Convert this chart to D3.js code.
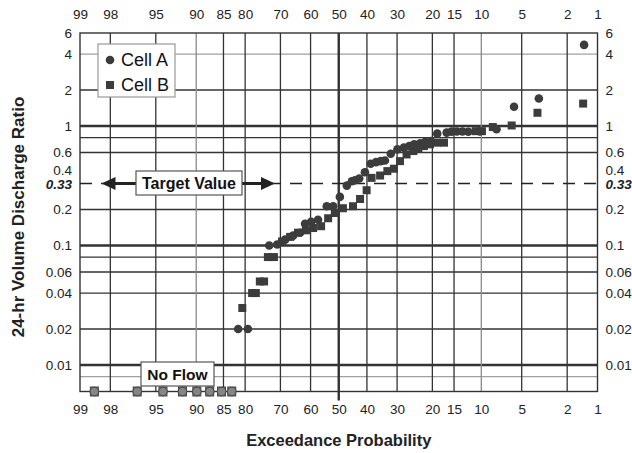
<!DOCTYPE html>
<html>
<head>
<meta charset="utf-8">
<script src="https://cdn.jsdelivr.net/npm/d3@7"></script>
<style>
  body { margin: 0; background: #fff; }
  text { font-family: "Liberation Sans", Arial, sans-serif; }
</style>
</head>
<body>
<svg id="chart" width="632" height="453"></svg>
<script>
// tick labels / grid
const probTicks = [99, 98, 95, 90, 85, 80, 70, 60, 50, 40, 30, 20, 15, 10, 5, 2, 1];
const probGrid = [98, 95, 90, 85, 80, 70, 60, 50, 40, 30, 20, 15, 10, 5, 2];
const ratioTicks = [6, 4, 2, 1, 0.6, 0.4, 0.2, 0.1, 0.06, 0.04, 0.02, 0.01];
const ratioGrid = [4, 2, 1, 0.8, 0.6, 0.2, 0.1, 0.08, 0.06, 0.04, 0.02, 0.01, 0.008];
const targetValue = 0.33;

// Cell A (circles): exceedance probability (%) and ratio
const cellAProb = [81.7, 79.3, 73.4, 71.0, 68.5, 65.9, 63.6, 61.9, 59.8, 57.4,
  54.3, 52.0, 49.6, 47.1, 45.3, 44.2, 42.7, 40.7, 38.7, 36.9,
  35.3, 33.9, 32.0, 29.9, 27.9, 26.3, 24.9, 23.2, 21.9, 20.4,
  18.8, 16.6, 15.5, 14.4, 13.3, 12.2, 10.2, 7.8, 5.75, 3.6, 1.37];
const cellAValue = [0.020, 0.020, 0.100, 0.102, 0.112, 0.121, 0.128, 0.152, 0.158, 0.164,
  0.213, 0.213, 0.255, 0.317, 0.345, 0.352, 0.364, 0.41, 0.483, 0.498,
  0.508, 0.515, 0.586, 0.637, 0.659, 0.679, 0.702, 0.715, 0.734, 0.748,
  0.863, 0.88, 0.897, 0.90, 0.90, 0.895, 0.90, 0.938, 1.45, 1.70, 4.77];

// Cell B (squares)
const cellBProb = [80.7, 78.2, 77.2, 76.1, 74.9, 73.8, 72.0, 69.5, 66.9, 64.3,
  61.6, 59.1, 56.3, 53.8, 51.4, 48.5, 44.9, 42.4, 40.1, 38.4,
  35.5, 33.1, 31.0, 29.1, 27.1, 25.1, 23.7, 22.2, 20.6, 18.9,
  17.2, 10.9, 9.9, 8.3, 6.0, 3.7, 1.4];
const cellBValue = [0.030, 0.040, 0.040, 0.050, 0.050, 0.080, 0.080, 0.108, 0.118, 0.128,
  0.134, 0.140, 0.145, 0.169, 0.187, 0.205, 0.213, 0.245, 0.29, 0.368,
  0.385, 0.419, 0.439, 0.508, 0.578, 0.617, 0.646, 0.679, 0.702, 0.725,
  0.725, 0.905, 0.905, 0.98, 1.01, 1.29, 1.54];

// zero-flow events, drawn on the bottom edge
const noFlowProb = [98.6, 96.5, 94.3, 92.0, 89.9, 87.7, 85.4, 83.2];

// inverse normal CDF (Acklam)
function probit(p) {
  const a = [-3.969683028665376e+01, 2.209460984245205e+02, -2.759285104469687e+02, 1.383577518672690e+02, -3.066479806614716e+01, 2.506628277459239e+00];
  const b = [-5.447609879822406e+01, 1.615858368580409e+02, -1.556989798598866e+02, 6.680131188771972e+01, -1.328068155288572e+01];
  const c = [-7.784894002430293e-03, -3.223964580411365e-01, -2.400758277161838e+00, -2.549732539343734e+00, 4.374664141464968e+00, 2.938163982698783e+00];
  const d = [7.784695709041462e-03, 3.224671290700398e-01, 2.445134137142996e+00, 3.754408661907416e+00];
  const pl = 0.02425;
  let q, r;
  if (p < pl) {
    q = Math.sqrt(-2 * Math.log(p));
    return (((((c[0]*q+c[1])*q+c[2])*q+c[3])*q+c[4])*q+c[5]) / ((((d[0]*q+d[1])*q+d[2])*q+d[3])*q+1);
  }
  if (p > 1 - pl) {
    q = Math.sqrt(-2 * Math.log(1 - p));
    return -(((((c[0]*q+c[1])*q+c[2])*q+c[3])*q+c[4])*q+c[5]) / ((((d[0]*q+d[1])*q+d[2])*q+d[3])*q+1);
  }
  q = p - 0.5; r = q * q;
  return (((((a[0]*r+a[1])*r+a[2])*r+a[3])*r+a[4])*r+a[5])*q / (((((b[0]*r+b[1])*r+b[2])*r+b[3])*r+b[4])*r+1);
}

const pLeft = 80, pRight = 597.5, pTop = 33, pBottom = 391.5;

const xz = d3.scaleLinear().domain([probit(0.99), probit(0.01)]).range([pLeft, pRight]);
const x = p => xz(probit(p / 100));
const y = d3.scaleLog().domain([0.006, 6]).range([pBottom, pTop]);

const svg = d3.select("#chart");
const ink = "#333";
const markFill = "#3c3c3c";

// frame background
svg.append("rect").attr("x", pLeft).attr("y", pTop)
  .attr("width", pRight - pLeft).attr("height", pBottom - pTop).attr("fill", "#fff");

// horizontal grid
svg.append("g").selectAll("line").data(ratioGrid).join("line")
  .attr("x1", pLeft).attr("x2", pRight)
  .attr("y1", d => y(d)).attr("y2", d => y(d))
  .attr("stroke", d => (d === 4 || d === 0.008) ? "#a0a0a0" : ink)
  .attr("stroke-width", d => [1, 0.1, 0.01].includes(d) ? 2.4 : 1.3);

// vertical grid
svg.append("g").selectAll("line").data(probGrid).join("line")
  .attr("x1", d => x(d)).attr("x2", d => x(d))
  .attr("y1", pTop).attr("y2", d => d === 50 ? pBottom + 9 : pBottom)
  .attr("stroke", d => (d === 90 || d === 10) ? "#8a8a8a" : ink)
  .attr("stroke-width", d => d === 50 ? 2.4 : 1.3);

// frame
svg.append("rect").attr("x", pLeft).attr("y", pTop)
  .attr("width", pRight - pLeft).attr("height", pBottom - pTop)
  .attr("fill", "none").attr("stroke", ink).attr("stroke-width", 1.4);

// target line
svg.append("line")
  .attr("x1", pLeft).attr("x2", pRight)
  .attr("y1", y(targetValue)).attr("y2", y(targetValue))
  .attr("stroke", "#222").attr("stroke-width", 1.6)
  .attr("stroke-dasharray", "12,9");

// axes
const probZ = probTicks.map(p => probit(p / 100));
function styleAxis(g) {
  g.select(".domain").remove();
  g.selectAll("text").attr("fill", "#222").style("font-size", "13.5px")
    .style("font-family", "'Liberation Sans', Arial, sans-serif");
}
svg.append("g").attr("transform", `translate(0,${pTop})`)
  .call(d3.axisTop(xz).tickValues(probZ).tickFormat((d, i) => probTicks[i]).tickSize(0).tickPadding(14))
  .call(styleAxis);
svg.append("g").attr("transform", `translate(0,${pBottom})`)
  .call(d3.axisBottom(xz).tickValues(probZ).tickFormat((d, i) => probTicks[i]).tickSize(0).tickPadding(13))
  .call(styleAxis);
const yLeft = svg.append("g").attr("transform", `translate(${pLeft},0)`)
  .call(d3.axisLeft(y).tickValues(ratioTicks).tickFormat(d => d).tickSize(0).tickPadding(8))
  .call(styleAxis);
const yRight = svg.append("g").attr("transform", `translate(${pRight},0)`)
  .call(d3.axisRight(y).tickValues(ratioTicks).tickFormat(d => d).tickSize(0).tickPadding(8))
  .call(styleAxis);
// 0.4 sits just above the 0.33 label, nudge it up a little like the original
[yLeft, yRight].forEach(g => g.selectAll(".tick").filter(d => d === 0.4)
  .select("text").attr("dy", "0.1em"));

// 0.33 labels
svg.append("text").attr("x", pLeft - 8).attr("y", y(targetValue)).attr("dy", "0.4em")
  .attr("text-anchor", "end").attr("font-size", 13.5).attr("font-weight", "bold")
  .attr("font-style", "italic").attr("fill", "#222").text("0.33");
svg.append("text").attr("x", pRight + 8).attr("y", y(targetValue)).attr("dy", "0.4em")
  .attr("font-size", 13.5).attr("font-weight", "bold")
  .attr("font-style", "italic").attr("fill", "#222").text("0.33");

// axis titles
svg.append("text").attr("x", (pLeft + pRight) / 2).attr("y", 446)
  .attr("text-anchor", "middle").attr("font-size", 16.5).attr("font-weight", "bold")
  .attr("fill", "#222").text("Exceedance Probability");
svg.append("text").attr("transform", "translate(24,217) rotate(-90)")
  .attr("text-anchor", "middle").attr("font-size", 17).attr("font-weight", "bold")
  .attr("fill", "#222").text("24-hr Volume Discharge Ratio");

// Target Value annotation
const ty = y(targetValue);
function arrow(x0, x1) {
  const dir = Math.sign(x1 - x0);
  svg.append("line").attr("x1", x0).attr("x2", x1 - dir * 10)
    .attr("y1", ty).attr("y2", ty).attr("stroke", "#222").attr("stroke-width", 3);
  svg.append("path")
    .attr("d", `M${x1},${ty} L${x1 - dir * 14},${ty - 6.5} L${x1 - dir * 14},${ty + 6.5} Z`)
    .attr("fill", "#222");
}
arrow(136, 101.5);
arrow(242, 275);
svg.append("rect").attr("x", 136).attr("y", 171).attr("width", 106).attr("height", 24)
  .attr("fill", "#fff").attr("stroke", "#555").attr("stroke-width", 1.2);
svg.append("text").attr("x", 189).attr("y", ty).attr("dy", "0.36em")
  .attr("text-anchor", "middle").attr("font-size", 16).attr("font-weight", "bold")
  .attr("fill", "#111").text("Target Value");

// No Flow annotation
svg.append("rect").attr("x", 141).attr("y", 362).attr("width", 73).attr("height", 24)
  .attr("fill", "#fff").attr("stroke", "#555").attr("stroke-width", 1.2);
svg.append("text").attr("x", 177.5).attr("y", 374).attr("dy", "0.36em")
  .attr("text-anchor", "middle").attr("font-size", 15.5).attr("font-weight", "bold")
  .attr("fill", "#111").text("No Flow");

// data: Cell B squares
const sq = 8;
svg.append("g").selectAll("rect").data(d3.zip(cellBProb, cellBValue)).join("rect")
  .attr("x", d => x(d[0]) - sq / 2).attr("y", d => y(d[1]) - sq / 2)
  .attr("width", sq).attr("height", sq).attr("fill", markFill);

// data: Cell A circles
svg.append("g").selectAll("circle").data(d3.zip(cellAProb, cellAValue)).join("circle")
  .attr("cx", d => x(d[0])).attr("cy", d => y(d[1])).attr("r", 4.3).attr("fill", markFill);

// no-flow markers on the bottom edge
const nf = svg.append("g").selectAll("g").data(noFlowProb).join("g")
  .attr("transform", d => `translate(${x(d)},${y(0.006)})`);
nf.append("rect").attr("x", -4).attr("y", -4.5).attr("width", 8).attr("height", 9)
  .attr("fill", "#858585").attr("stroke", "#444").attr("stroke-width", 1);
nf.append("circle").attr("r", 4.3).attr("fill", "#858585").attr("stroke", "#444").attr("stroke-width", 1);

// legend
svg.append("rect").attr("x", 98).attr("y", 44).attr("width", 77).attr("height", 53)
  .attr("fill", "#fff").attr("stroke", "#999").attr("stroke-width", 1.2);
svg.append("circle").attr("cx", 110).attr("cy", 60).attr("r", 4.3).attr("fill", markFill);
svg.append("rect").attr("x", 106).attr("y", 81).attr("width", sq).attr("height", sq).attr("fill", markFill);
svg.append("text").attr("x", 121).attr("y", 60).attr("dy", "0.36em")
  .attr("font-size", 18).attr("fill", "#111").text("Cell A");
svg.append("text").attr("x", 121).attr("y", 85).attr("dy", "0.36em")
  .attr("font-size", 18).attr("fill", "#111").text("Cell B");
</script>
</body>
</html>
